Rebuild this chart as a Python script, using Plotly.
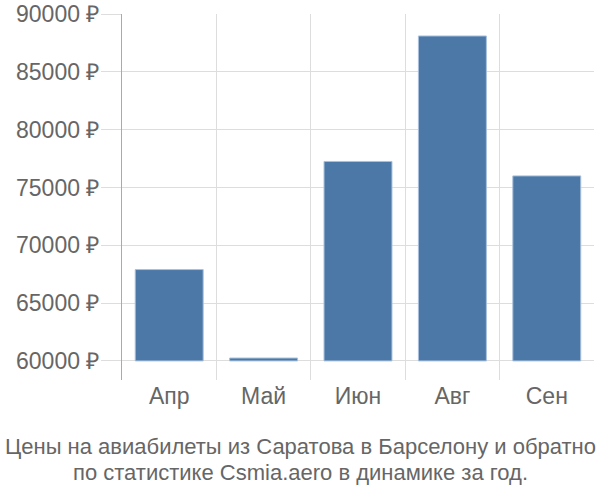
import plotly.graph_objects as go

months = ["Апр", "Май", "Июн", "Авг", "Сен"]
prices = [67900, 60250, 77250, 88100, 76000]
tick_vals = [60000, 65000, 70000, 75000, 80000, 85000, 90000]
tick_text = [f"{v} ₽" for v in tick_vals]
title_lines = ["Цены на авиабилеты из Саратова в Барселону и обратно",
               "по статистике Csmia.aero в динамике за год."]

base_val = 60000
fig = go.Figure(go.Bar(
    x=months,
    y=[p - base_val for p in prices],
    base=base_val,
    marker=dict(color="#4c78a8", line=dict(color="#a9c1dc", width=1)),
    width=0.72,
))

font_family = "Liberation Sans, Arial, sans-serif"
fig.update_layout(
    width=600, height=500,
    margin=dict(l=122, r=6, t=14, b=120, autoexpand=False),
    paper_bgcolor="white", plot_bgcolor="white",
    showlegend=False,
    font=dict(family=font_family, size=23, color="#666666"),
    bargap=0.28,
)
fig.update_yaxes(
    range=[58350, 90000],
    tickvals=tick_vals, ticktext=tick_text,
    showgrid=True, gridcolor="#dddddd", gridwidth=1,
    ticks="outside", ticklen=20, tickcolor="#dddddd",
    ticklabelstandoff=-3,
    showline=True, linecolor="#aaaaaa", linewidth=1,
    zeroline=False, automargin=False,
    tickfont=dict(size=23, color="#666666"),
)
fig.update_xaxes(
    tickson="boundaries",
    showgrid=True, gridcolor="#dddddd", gridwidth=1,
    ticks="outside", ticklen=0,
    showline=False, zeroline=False, automargin=False,
    tickfont=dict(size=23, color="#666666"),
)
for i, line in enumerate(title_lines):
    fig.add_annotation(
        text=line,
        xref="paper", yref="paper", x=(300 - 122) / 472, y=0,
        yshift=-52 - 26 * i, xanchor="center", yanchor="top",
        showarrow=False, align="center",
        font=dict(size=22, color="#666666", family=font_family),
    )
fig.write_html("out.html")
